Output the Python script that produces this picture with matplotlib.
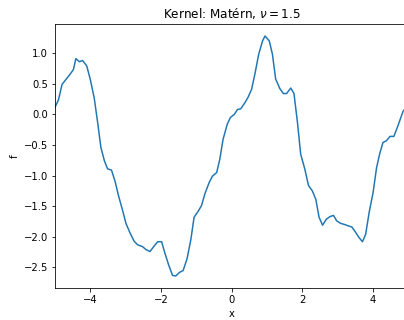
import numpy as np
import matplotlib
matplotlib.use("Agg")
from matplotlib import pyplot as plt

# sample of a GP prior draw
x = [-5.02, -4.90, -4.80, -4.69, -4.58, -4.48, -4.41, -4.31, -4.22, -4.10,
     -4.00, -3.89, -3.79, -3.70, -3.60, -3.51, -3.40, -3.30, -3.20, -3.08,
     -2.99, -2.88, -2.76, -2.66, -2.52, -2.42, -2.31, -2.19, -2.09, -1.98,
     -1.89, -1.78, -1.67, -1.58, -1.47, -1.37, -1.26, -1.15, -1.06, -0.94,
     -0.85, -0.75, -0.63, -0.54, -0.42, -0.33, -0.24, -0.12, -0.03, 0.08,
     0.17, 0.26, 0.38, 0.47, 0.57, 0.67, 0.77, 0.88, 0.95, 1.07,
     1.16, 1.25, 1.37, 1.47, 1.56, 1.68, 1.77, 1.87, 1.96, 2.08,
     2.18, 2.29, 2.39, 2.48, 2.58, 2.69, 2.79, 2.89, 2.98, 3.09,
     3.21, 3.30, 3.41, 3.52, 3.61, 3.71, 3.80, 3.90, 4.01, 4.11,
     4.20, 4.29, 4.39, 4.49, 4.60, 4.70, 4.86, 5.00]
f = [0.09, 0.24, 0.49, 0.57, 0.65, 0.73, 0.91, 0.86, 0.88, 0.79,
     0.57, 0.27, -0.14, -0.54, -0.76, -0.89, -0.91, -1.09, -1.33, -1.58,
     -1.78, -1.93, -2.07, -2.13, -2.16, -2.21, -2.24, -2.15, -2.08, -2.08,
     -2.26, -2.46, -2.63, -2.64, -2.58, -2.55, -2.36, -2.04, -1.68, -1.58,
     -1.49, -1.29, -1.11, -1.01, -0.95, -0.73, -0.41, -0.16, -0.05, 0.00,
     0.08, 0.09, 0.19, 0.28, 0.41, 0.68, 0.98, 1.20, 1.28, 1.20,
     0.98, 0.58, 0.42, 0.34, 0.34, 0.43, 0.34, -0.14, -0.65, -0.90,
     -1.16, -1.25, -1.39, -1.68, -1.81, -1.71, -1.67, -1.65, -1.74, -1.78,
     -1.80, -1.82, -1.84, -1.93, -2.01, -2.08, -1.96, -1.60, -1.28, -0.87,
     -0.64, -0.46, -0.43, -0.36, -0.36, -0.21, 0.05, 0.15]

fig = plt.figure(figsize=(404 / 72, 320 / 72), dpi=72)
ax = fig.add_axes([55 / 404, 0.1, 353 / 404, 0.825])
ax.plot(x, f)
ax.set_xlim(-5, 5)
ax.set_xlabel("x")
ax.set_ylabel("f")
ax.set_title(r"Kernel: Matérn, $\nu = 1.5$")

fig.savefig("out.png", dpi=72)
